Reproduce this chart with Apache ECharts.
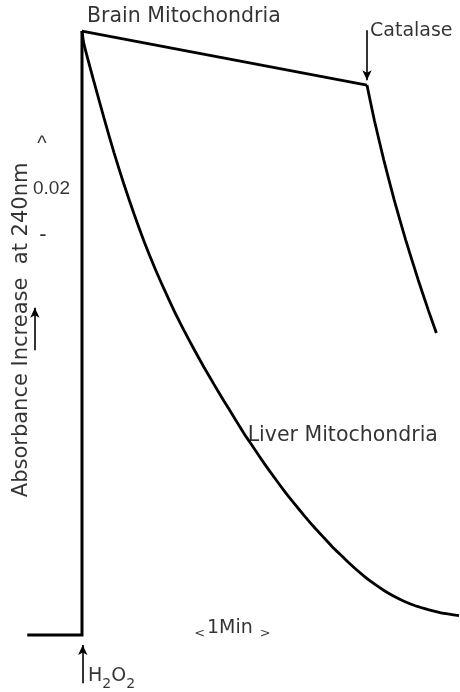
<!DOCTYPE html>
<html><head><meta charset="utf-8">
<script src="https://cdn.jsdelivr.net/npm/echarts@6/dist/echarts.min.js"></script>
<style>html,body{margin:0;padding:0;background:#fff}#c{width:460px;height:692px}</style>
</head><body><div id="c"></div>
<script>
// time after H2O2 addition (min) and absorbance increase at 240 nm
const baseT = [-0.72, 0, 0];
const baseA = [0, 0, 0.1342];
const brainT = [0, 3.75];
const brainA = [0.1342, 0.1222];
const catalaseT = [3.750, 3.847, 3.971, 4.108, 4.259, 4.424, 4.557, 4.663];
const catalaseA = [0.1222, 0.1144, 0.1056, 0.0967, 0.0878, 0.0789, 0.0722, 0.0671];
const liverT = [0, 0.026, 0.158, 0.289, 0.421, 0.553, 0.684, 0.816, 0.947, 1.079, 1.211, 1.342, 1.474,
  1.605, 1.737, 1.868, 2.000, 2.132, 2.263, 2.395, 2.526, 2.658, 2.789, 2.921, 3.053, 3.184, 3.316,
  3.447, 3.579, 3.711, 3.842, 3.974, 4.105, 4.237, 4.368, 4.500, 4.632, 4.763, 4.961];
const liverA = [0.1342, 0.1313, 0.1229, 0.1149, 0.1072, 0.1001, 0.0936, 0.0875, 0.0820, 0.0769, 0.0721, 0.0677, 0.0635,
  0.0595, 0.0557, 0.0520, 0.0484, 0.0448, 0.0415, 0.0382, 0.0351, 0.0321, 0.0293, 0.0266, 0.0240, 0.0216, 0.0192,
  0.0171, 0.0150, 0.0131, 0.0114, 0.0099, 0.0086, 0.0075, 0.0066, 0.0059, 0.0053, 0.0048, 0.0043];

// text annotations (anchor in data coordinates)
const labelNames = ['Brain Mitochondria', 'Catalase', 'Liver Mitochondria', '0.02', '^', '-', '<', '1Min', '>', 'H2O2', 'Absorbance Increase  at 240nm'];
const labelT = [0.066, 3.79, 2.18, -0.645, -0.526, -0.513, 1.55, 1.645, 2.41, 0.079, -0.80];
const labelA = [0.1373, 0.1342, 0.0442, 0.0991, 0.1089, 0.0889, 0.0002, 0.0016, 0.0002, -0.0091, 0.0678];

// arrows: H2O2 addition, catalase addition, axis direction
const arrowT = [0.01, 3.75, -0.62];
const arrowFrom = [-0.0107, 0.1344, 0.0633];
const arrowTo = [-0.0022, 0.1233, 0.0727];

const zip = (a, b) => a.map((v, i) => [v, b[i]]);
const DJ = "'DejaVu Sans', sans-serif";
const LS = "'Liberation Sans', Arial, sans-serif";
const labelStyle = [
  {fontFamily: DJ, fontSize: 20.5, align: 'left'},
  {fontFamily: DJ, fontSize: 19, align: 'left'},
  {fontFamily: DJ, fontSize: 20.5, align: 'left'},
  {fontFamily: LS, fontSize: 19, align: 'left'},
  {fontFamily: LS, fontSize: 20, align: 'center'},
  {fontFamily: LS, fontSize: 22, align: 'center'},
  {fontFamily: DJ, fontSize: 13, align: 'center'},
  {fontFamily: DJ, fontSize: 19, align: 'left'},
  {fontFamily: DJ, fontSize: 13, align: 'center'},
  {fontFamily: DJ, fontSize: 19, align: 'left', rich: {
     n: {fontFamily: DJ, fontSize: 19, color: '#000'},
     s: {fontFamily: DJ, fontSize: 14, color: '#000', padding: [16, 0, 0, 0]}}},
  {fontFamily: DJ, fontSize: 21, align: 'center', rotate: 90}
];

const labelData = labelNames.map((n, i) => ({
  value: [labelT[i], labelA[i]],
  name: n,
  label: Object.assign({show: true, position: [0, 0], verticalAlign: 'middle', color: '#000',
    formatter: n === 'H2O2' ? '{n|H}{s|2}{n|O}{s|2}' : n}, labelStyle[i])
}));

const arrowData = arrowT.map((t, i) => [{coord: [t, arrowFrom[i]]}, {coord: [t, arrowTo[i]]}]);

const lineCommon = {type: 'line', showSymbol: false, symbol: 'none', clip: false, silent: true,
  lineStyle: {color: '#000', width: 3, join: 'miter'}, animation: false};

const chart = echarts.init(document.getElementById('c'), null, {renderer: 'canvas'});
chart.setOption({
  backgroundColor: '#fff',
  animation: false,
  grid: {left: 0, right: 0, top: 0, bottom: 0},
  xAxis: {type: 'value', min: -1.079, max: 4.974, show: false},
  yAxis: {type: 'value', min: -0.012667, max: 0.141111, show: false},
  series: [
    Object.assign({}, lineCommon, {name: 'trace', data: zip(baseT, baseA),
      markLine: {silent: true, animation: false, symbol: ['none', 'arrow'], symbolSize: [7, 10],
        label: {show: false}, lineStyle: {color: '#000', width: 1.6, type: 'solid'}, data: arrowData}}),
    Object.assign({}, lineCommon, {name: 'Brain Mitochondria', data: zip(brainT, brainA), lineStyle: {color: '#000', width: 2.8}}),
    Object.assign({}, lineCommon, {name: 'Catalase', data: zip(catalaseT, catalaseA), smooth: 0.2, lineStyle: {color: '#000', width: 2.8}}),
    Object.assign({}, lineCommon, {name: 'Liver Mitochondria', data: zip(liverT, liverA), smooth: 0.2, lineStyle: {color: '#000', width: 2.8}}),
    {type: 'scatter', name: 'labels', symbolSize: 0, silent: true, animation: false, clip: false, data: labelData}
  ]
});
</script>
</body></html>
